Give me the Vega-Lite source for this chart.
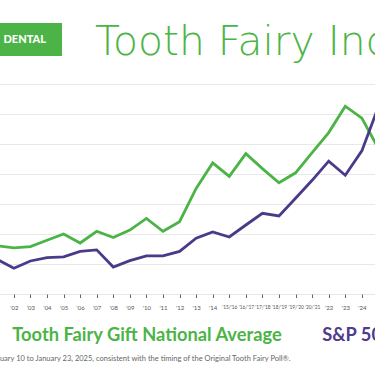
{
  "$schema": "https://vega.github.io/schema/vega-lite/v6.json",
  "padding": {"left": -11, "top": 22, "right": 0, "bottom": 0},
  "background": "white",
  "config": {"view": {"stroke": null}, "font": "Lato"},
  "resolve": {"scale": {"color": "independent"}, "legend": {"color": "independent"}},
  "spacing": 21,
  "vconcat": [
    {
      "width": 73,
      "height": 33,
      "view": {"fill": "#4cb446", "stroke": null},
      "data": {"values": [{"brand": "DENTAL", "heading": "Tooth Fairy Index"}]},
      "layer": [
        {
          "mark": {"type": "text", "align": "right", "baseline": "middle", "dx": 20.5, "font": "Lato", "fontWeight": 900, "fontSize": 11, "color": "white"},
          "encoding": {"text": {"field": "brand"}}
        },
        {
          "mark": {"type": "text", "align": "left", "baseline": "alphabetic", "dx": 69.5, "dy": 15.5, "font": "DejaVu Sans", "fontWeight": 200, "fontSize": 40.8, "color": "#4cb446"},
          "encoding": {"text": {"field": "heading"}}
        }
      ]
    },
    {
      "width": 397.7,
      "height": 210,
      "title": {"text": "January 10 to January 23, 2025, consistent with the timing of the Original Tooth Fairy Poll®.", "orient": "bottom", "anchor": "start", "frame": "group", "fontSize": 7.5, "font": "Lato", "fontWeight": "normal", "color": "#666666", "offset": 10},
      "data": {"values": [
        {"year": "'01", "gift": 1.61, "sp500": 1150},
        {"year": "'02", "gift": 1.54, "sp500": 860},
        {"year": "'03", "gift": 1.58, "sp500": 1100},
        {"year": "'04", "gift": 1.79, "sp500": 1210},
        {"year": "'05", "gift": 2.00, "sp500": 1240},
        {"year": "'06", "gift": 1.70, "sp500": 1420},
        {"year": "'07", "gift": 2.09, "sp500": 1470},
        {"year": "'08", "gift": 1.88, "sp500": 900},
        {"year": "'09", "gift": 2.13, "sp500": 1110},
        {"year": "'10", "gift": 2.52, "sp500": 1270},
        {"year": "'11", "gift": 2.09, "sp500": 1270},
        {"year": "'12", "gift": 2.41, "sp500": 1420},
        {"year": "'13", "gift": 3.52, "sp500": 1860},
        {"year": "'14", "gift": 4.37, "sp500": 2070},
        {"year": "'15/'16", "gift": 3.92, "sp500": 1900},
        {"year": "'16/'17", "gift": 4.68, "sp500": 2300},
        {"year": "'17/'18", "gift": 4.18, "sp500": 2690},
        {"year": "'18/'19", "gift": 3.71, "sp500": 2600},
        {"year": "'19/'20", "gift": 4.04, "sp500": 3190},
        {"year": "'20/'21", "gift": 4.71, "sp500": 3790},
        {"year": "'22", "gift": 5.38, "sp500": 4430},
        {"year": "'23", "gift": 6.26, "sp500": 3960},
        {"year": "'24", "gift": 5.86, "sp500": 4770},
        {"year": "'25", "gift": 4.85, "sp500": 6250}
      ]},
      "encoding": {
        "x": {
          "field": "year", "type": "ordinal", "sort": null,
          "scale": {"type": "point", "padding": 0.5},
          "axis": {
            "title": null, "domain": false, "grid": false,
            "values": ["'02","'03","'04","'05","'06","'07","'08","'09","'10","'11","'12","'13","'14","'15/'16","'16/'17","'17/'18","'18/'19","'19/'20","'20/'21","'22","'23","'24"],
            "labelAngle": 0, "labelFont": "Lato", "labelColor": "#555555",
            "labelFontSize": {"condition": {"test": "length(datum.label) > 4", "value": 4.8}, "value": 6},
            "labelPadding": 7, "labelOverlap": false, "labelFlush": false,
            "tickSize": 3.5, "tickColor": "#666666", "tickWidth": 1
          }
        }
      },
      "layer": [
        {
          "mark": {"type": "line", "strokeWidth": 2.8},
          "encoding": {
            "y": {"field": "gift", "type": "quantitative", "scale": {"domain": [0, 7], "nice": false},
              "axis": {"title": null, "labels": false, "ticks": false, "domain": false, "grid": true, "minExtent": 0, "maxExtent": 0, "values": [0,1,2,3,4,5,6,7], "gridColor": "#e8e8e8", "gridWidth": 1}},
            "color": {
              "datum": "Tooth Fairy Gift National Average",
              "scale": {"domain": ["Tooth Fairy Gift National Average", "S&P 500"], "range": ["#4cb446", "#4b3a89"]},
              "legend": {
                "orient": "none", "legendX": 5, "legendY": 243, "direction": "horizontal", "title": null,
                "labelFontSize": 18.3, "labelFont": "Lato", "labelFontWeight": "bold", "labelLimit": 500,
                "symbolOpacity": 0, "symbolSize": 1, "symbolStrokeWidth": 0, "labelOffset": 0, "columnPadding": 21, "padding": 0,
                "encode": {"labels": {"update": {"fill": {"signal": "datum.label === 'S&P 500' ? '#4e3c8c' : '#4cb446'"}}}}
              }
            }
          }
        },
        {
          "mark": {"type": "line", "strokeWidth": 2.8},
          "encoding": {
            "y": {"field": "sp500", "type": "quantitative", "scale": {"domain": [0, 7000], "nice": false}, "axis": null},
            "color": {"datum": "S&P 500"}
          }
        }
      ],
      "resolve": {"scale": {"y": "independent"}}
    }
  ]
}
